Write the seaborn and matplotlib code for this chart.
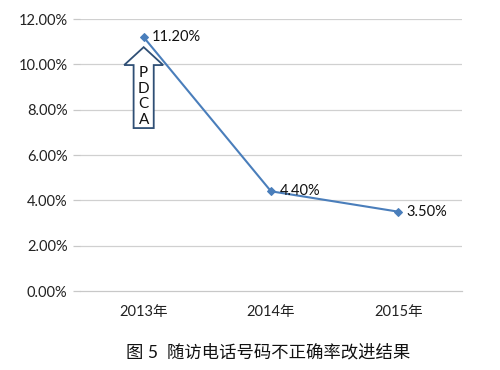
import matplotlib
matplotlib.use("Agg")
import matplotlib.pyplot as plt
import seaborn as sns
import pandas as pd
from matplotlib.patches import Polygon

years = ["2013年", "2014年", "2015年"]
rates = [11.20, 4.40, 3.50]
labels = ["11.20%", "4.40%", "3.50%"]
yticks = [0, 2, 4, 6, 8, 10, 12]
caption = "图 5  随访电话号码不正确率改进结果"

sns.set_theme(style="white")
plt.rcParams['font.family'] = ['Lato', 'Noto Sans CJK SC', 'DejaVu Sans']

fig = plt.figure(figsize=(5, 3.7), dpi=100)
ax = fig.add_axes([0.16, 0.2135, 0.764, 0.735])

df = pd.DataFrame({"year": years, "rate": rates})
color = "#4A7EBB"
sns.lineplot(data=df, x="year", y="rate", ax=ax, color=color, marker="D",
             markersize=4.5, markeredgecolor=color, linewidth=1.5, sort=False)

ax.set_xlim(-0.5, 2.5)
ax.set_ylim(0, 12)
ax.set_yticks(yticks)
ax.set_yticklabels([f"{v:.2f}%" for v in yticks], fontsize=10.5, color="#222222")
ax.set_xticks(range(len(years)))
ax.set_xticklabels(years, fontsize=10.5, color="#222222")
ax.set_xlabel("")
ax.set_ylabel("")
for v in yticks[1:]:
    ax.axhline(v, color="#D0D0D0", linewidth=0.9, zorder=0)

for s in ["top", "right", "left"]:
    ax.spines[s].set_visible(False)
ax.spines["bottom"].set_color("#C8C8C8")
ax.spines["bottom"].set_linewidth(0.9)

ax.set_xticks([-0.5, 0.5, 1.5, 2.5], minor=True)
ax.tick_params(axis="x", which="minor", length=5, color="#C8C8C8", width=0.9)
ax.tick_params(axis="x", which="major", length=0, pad=10)
ax.tick_params(axis="y", which="major", length=5, color="#C8C8C8", width=0.9, left=True, pad=4)

for i, (v, t) in enumerate(zip(rates, labels)):
    ax.annotate(t, (i, v), xytext=(6, 0), textcoords="offset points",
                ha="left", va="center", fontsize=10.5, color="#111111")

# hollow PDCA arrow
sw, hw = 0.079, 0.153
tip, hb, bot = 10.76, 9.97, 7.19
pts = [(-sw, bot), (sw, bot), (sw, hb), (hw, hb), (0, tip), (-hw, hb), (-sw, hb)]
ax.add_patch(Polygon(pts, closed=True, facecolor="white", edgecolor="#2F4F75",
                     linewidth=1.3, zorder=1))
for k, ch in enumerate("PDCA"):
    ax.text(0, 9.6 - k * 0.68, ch, ha="center", va="center", fontsize=11,
            color="#111111", zorder=2)

fig.text(0.536, 0.048, caption, ha="center", va="center", fontsize=12.5, color="#111111")

fig.savefig("out.png", dpi=100)
